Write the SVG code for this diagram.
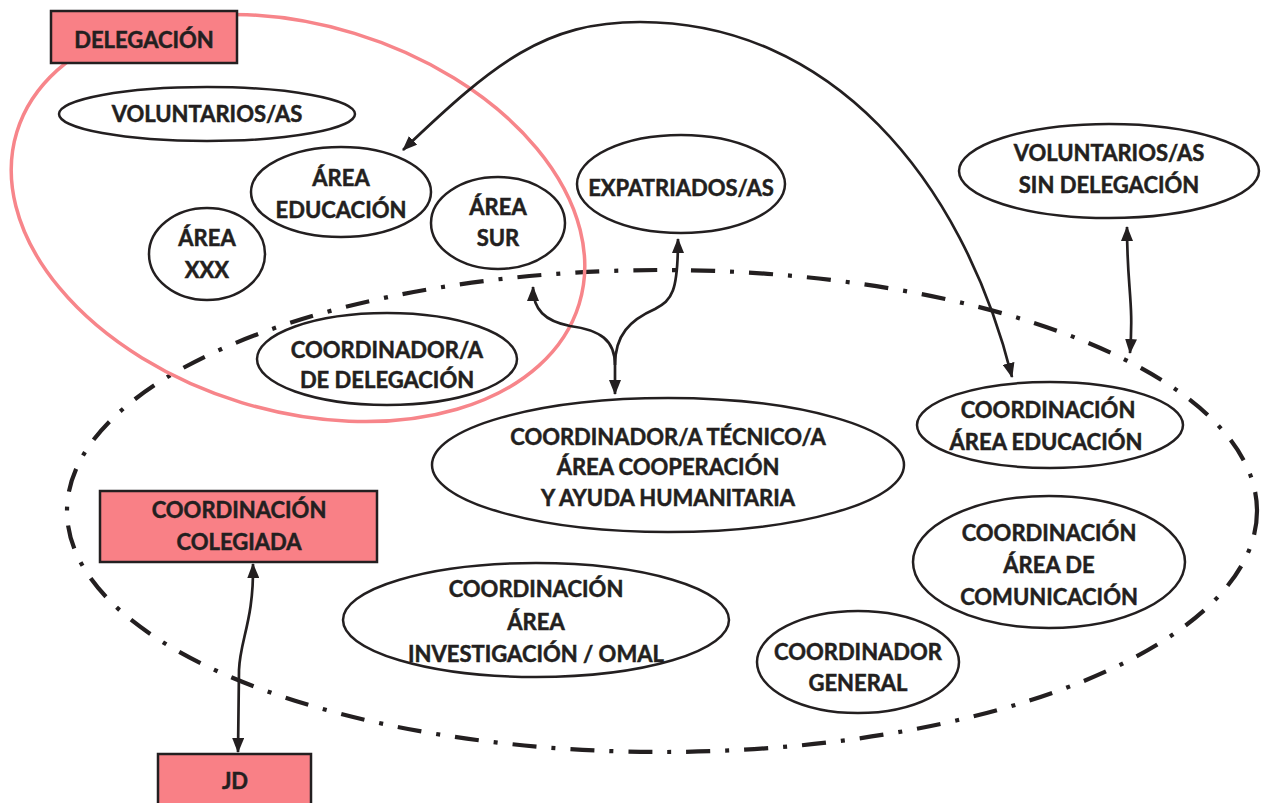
<svg xmlns="http://www.w3.org/2000/svg" width="1266" height="803" viewBox="0 0 1266 803">
<style>
.bg{fill:#ffffff}
.n{fill:#ffffff;stroke:#231F20;stroke-width:2.5}
.b{fill:#F98086;stroke:#231F20;stroke-width:2.5}
.t{font-family:Lato,"Open Sans","Liberation Sans",sans-serif;font-weight:bold;font-size:22px;fill:#231F20;stroke:#231F20;stroke-width:0.5;text-anchor:middle}
.c{fill:none;stroke:#231F20;stroke-width:2.7}
.dd{fill:none;stroke:#231F20;stroke-width:4.2;stroke-dasharray:24 15 4 15}
.red{fill:none;stroke:#F7858A;stroke-width:3.5}
</style>
<defs>
<marker id="ah" viewBox="0 0 15 12" refX="14" refY="6" markerWidth="15" markerHeight="12" markerUnits="userSpaceOnUse" orient="auto-start-reverse">
<path d="M0,0 L15,6 L0,12 z" fill="#231F20"/>
</marker>
</defs>
<rect class="bg" x="0" y="0" width="1266" height="803"/>
<g id="boundaries">
<ellipse class="dd" cx="662" cy="511" rx="595" ry="241"/>
<ellipse class="red" cx="298" cy="218" rx="294" ry="193" transform="rotate(17 298 218)"/>
</g>
<g id="delegacion">
<rect class="b" x="51" y="11" width="186" height="52"/>
<text class="t" x="144" y="48">DELEGACIÓN</text>
</g>
<g id="voluntarios">
<ellipse class="n" cx="207" cy="114" rx="148" ry="27"/>
<text class="t" x="207" y="122">VOLUNTARIOS/AS</text>
</g>
<g id="area-educacion">
<ellipse class="n" cx="341" cy="192" rx="90" ry="45"/>
<text class="t" x="341" y="186">ÁREA</text>
<text class="t" x="341" y="218">EDUCACIÓN</text>
</g>
<g id="area-sur">
<ellipse class="n" cx="498" cy="223" rx="67" ry="46"/>
<text class="t" x="498" y="215">ÁREA</text>
<text class="t" x="498" y="246">SUR</text>
</g>
<g id="area-xxx">
<ellipse class="n" cx="207" cy="254" rx="58" ry="46"/>
<text class="t" x="207" y="246">ÁREA</text>
<text class="t" x="207" y="278">XXX</text>
</g>
<g id="expatriados">
<ellipse class="n" cx="681" cy="184" rx="104" ry="49"/>
<text class="t" x="681" y="196">EXPATRIADOS/AS</text>
</g>
<g id="voluntarios-sin">
<ellipse class="n" cx="1109" cy="171" rx="150" ry="47"/>
<text class="t" x="1109" y="161">VOLUNTARIOS/AS</text>
<text class="t" x="1109" y="193">SIN DELEGACIÓN</text>
</g>
<g id="coord-delegacion">
<ellipse class="n" cx="387" cy="359" rx="130" ry="46"/>
<text class="t" x="387" y="358">COORDINADOR/A</text>
<text class="t" x="387" y="388">DE DELEGACIÓN</text>
</g>
<g id="coord-tecnico">
<ellipse class="n" cx="668" cy="465" rx="236" ry="67"/>
<text class="t" x="668" y="445">COORDINADOR/A TÉCNICO/A</text>
<text class="t" x="668" y="475">ÁREA COOPERACIÓN</text>
<text class="t" x="668" y="506">Y AYUDA HUMANITARIA</text>
</g>
<g id="coord-educacion">
<ellipse class="n" cx="1050" cy="425" rx="133" ry="43"/>
<text class="t" x="1048" y="418">COORDINACIÓN</text>
<text class="t" x="1046" y="450">ÁREA EDUCACIÓN</text>
</g>
<g id="coord-colegiada">
<rect class="b" x="100" y="491" width="277" height="71"/>
<text class="t" x="239" y="518">COORDINACIÓN</text>
<text class="t" x="239" y="550">COLEGIADA</text>
</g>
<g id="coord-comunicacion">
<ellipse class="n" cx="1049" cy="562" rx="136" ry="66"/>
<text class="t" x="1049" y="541">COORDINACIÓN</text>
<text class="t" x="1049" y="573">ÁREA DE</text>
<text class="t" x="1049" y="605">COMUNICACIÓN</text>
</g>
<g id="coord-investigacion">
<ellipse class="n" cx="536" cy="620" rx="193" ry="57"/>
<text class="t" x="536" y="597">COORDINACIÓN</text>
<text class="t" x="536" y="630">ÁREA</text>
<text class="t" x="536" y="662">INVESTIGACIÓN / OMAL</text>
</g>
<g id="coord-general">
<ellipse class="n" cx="858" cy="662" rx="101" ry="51"/>
<text class="t" x="858" y="660">COORDINADOR</text>
<text class="t" x="858" y="691">GENERAL</text>
</g>
<g id="jd">
<rect class="b" x="158" y="754" width="153" height="60"/>
<text class="t" x="235" y="789">JD</text>
</g>
<g id="connectors">
<path class="c" d="M403,150 C495,62 545,22 640,22 C830,22 962,178 1012,377" marker-start="url(#ah)" marker-end="url(#ah)"/>
<path class="c" d="M615,394 L615,365 C615,340 600,330 570,326 C545,321 533,310 533,287" marker-start="url(#ah)" marker-end="url(#ah)"/>
<path class="c" d="M615,365 C615,335 630,320 655,309 C672,300 678,292 678,239" marker-end="url(#ah)"/>
<path class="c" d="M1127,227 C1127,290 1134,300 1130,353" marker-start="url(#ah)" marker-end="url(#ah)"/>
<path class="c" d="M253,564 C254,620 240,640 239,670 L238,752" marker-start="url(#ah)" marker-end="url(#ah)"/>
</g>
</svg>
